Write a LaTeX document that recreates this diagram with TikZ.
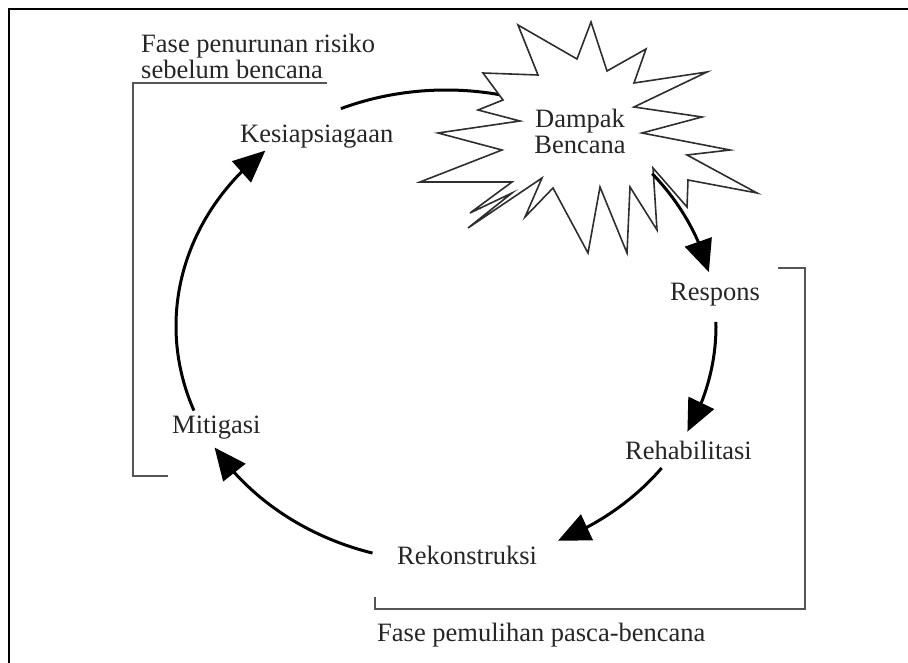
\documentclass[tikz,border=0pt]{standalone}
\usepackage{fontspec}
\setmainfont{Liberation Serif}
\usetikzlibrary{arrows.meta,bending,calc}
\definecolor{ink}{HTML}{262626}
\definecolor{brk}{HTML}{555555}
\definecolor{starline}{HTML}{2E2E2E}
\begin{document}
\begin{tikzpicture}[x=1pt,y=1pt,
  lbl/.style={font=\fontsize{26.5}{25.6}\selectfont, text=ink, inner sep=0pt},
  cycarrow/.style={line width=3pt, draw=black, -{Triangle[length=32pt,width=28pt]}},
  cycline/.style={line width=3pt, draw=black},
  bracket/.style={line width=1.8pt, draw=brk},
  frameline/.style={line width=2.6pt, draw=black},
  burst/.style={line width=1.6pt, draw=starline, fill=white, line join=miter}]
\useasboundingbox (0,0) rectangle (908,-663);
% outer frame (top and left edges)
\draw[frameline] (9,-663) -- (9,-9) -- (908,-9);

% ellipse of the cycle
\coordinate (ctr) at (446,-326);
\coordinate (t0) at ($(ctr)+(112.9:270 and 236)$);
\coordinate (k0) at ($(ctr)+(201:270 and 236)$);
\coordinate (r0) at ($(ctr)+(40.2:270 and 236)$);
\coordinate (h0) at ($(ctr)+(1:270 and 236)$);
\coordinate (e0) at ($(ctr)+(-37:270 and 236)$);
\coordinate (g0) at ($(ctr)+(254.2:270 and 236)$);

% top arc going into the burst
\draw[cycline] (t0) arc[start angle=112.9, end angle=72, x radius=270, y radius=236];

% starburst
\draw[burst] (518,-25) -- (577,-59) -- (591,-22) -- (607,-71) -- (646,-49) -- (634,-83)
  -- (707,-72) -- (634,-107) -- (702,-117) -- (642,-133) -- (730,-150) -- (687,-155)
  -- (757,-193) -- (688,-180) -- (687,-207) -- (653,-168) -- (657,-230) -- (630,-187)
  -- (627,-253) -- (600,-187) -- (588,-253) -- (553,-188) -- (525,-217) -- (542,-178)
  -- (468,-228) -- (512,-193) -- (470,-213) -- (512,-182) -- (420,-182) -- (502,-150)
  -- (438,-133) -- (520,-121) -- (478,-110) -- (503,-100) -- (483,-73) -- (538,-75) -- cycle;
\node[lbl, anchor=base, align=center] (dampak) at (580,-153.3) {Dampak\\Bencana};

% labels
\node[lbl, anchor=base west, align=left] (fase1) at (141,-78.3) {Fase penurunan risiko\\sebelum bencana};
\node[lbl, anchor=base west] (kesiap) at (240,-143) {Kesiapsiagaan};
\node[lbl, anchor=base west] (respons) at (670,-300) {Respons};
\node[lbl, anchor=base west] (rehab) at (625,-459) {Rehabilitasi};
\node[lbl, anchor=base west] (rekon) at (397,-564) {Rekonstruksi};
\node[lbl, anchor=base west] (mitig) at (172,-433) {Mitigasi};
\node[lbl, anchor=base west] (fase2) at (377,-641) {Fase pemulihan pasca-bencana};

% cycle arrows
\draw[cycarrow] (k0) arc[start angle=201, end angle=132, x radius=270, y radius=236];
\draw[cycarrow] (r0) arc[start angle=40.2, end angle=13.2, x radius=270, y radius=236];
\draw[cycarrow] (h0) arc[start angle=1, end angle=-26.6, x radius=270, y radius=236];
\draw[cycarrow] (e0) arc[start angle=-37, end angle=-65.5, x radius=270, y radius=236];
\draw[cycarrow] (g0) arc[start angle=254.2, end angle=211, x radius=270, y radius=236];

% brackets
\draw[bracket] (327,-83) -- (133,-83) -- (133,-476) -- (168,-476);
\draw[bracket] (778,-268) -- (805,-268) -- (805,-609) -- (375,-609) -- (375,-597);
\end{tikzpicture}
\end{document}
